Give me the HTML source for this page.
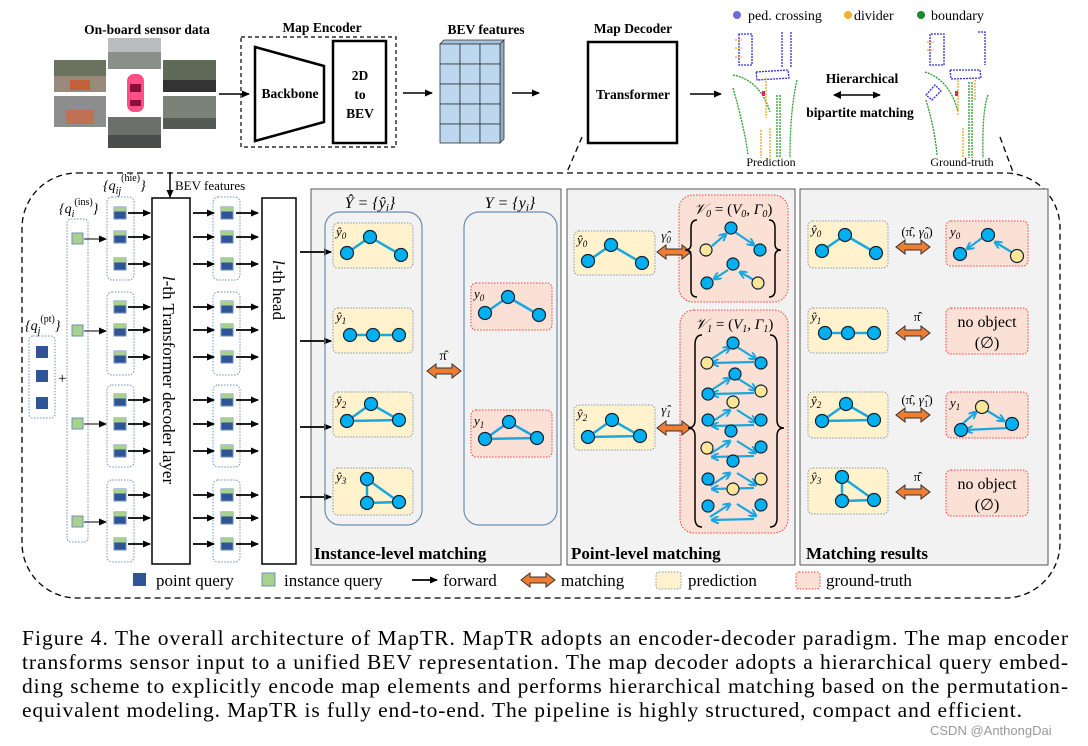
<!DOCTYPE html>
<html><head><meta charset="utf-8"><style>
html,body{margin:0;padding:0;background:#fff}
svg{display:block;font-family:"Liberation Serif",serif}
.b{font-weight:bold}
</style></head><body>
<svg width="1088" height="746" viewBox="0 0 1088 746" xmlns="http://www.w3.org/2000/svg">
<defs>
<marker id="ah" markerWidth="8" markerHeight="8" refX="7" refY="4" orient="auto" markerUnits="userSpaceOnUse"><path d="M0,0.5 L8,4 L0,7.5 z" fill="#000"/></marker>
<marker id="bh" markerWidth="8" markerHeight="8" refX="7" refY="4" orient="auto" markerUnits="userSpaceOnUse"><path d="M0,0 L8,4 L0,8" fill="none" stroke="#1aa7e0" stroke-width="2"/></marker>
<symbol id="hq" overflow="visible"><rect x="0" y="0" width="12" height="12" fill="#2f5597" stroke="#6f8fb8" stroke-width="1"/><rect x="0" y="0" width="12" height="4.5" fill="#a9d18e"/></symbol>
<symbol id="oa" overflow="visible"><polygon points="0,7 9,0 9,4 25,4 25,0 34,7 25,14 25,10 9,10 9,14" fill="#ed7d31" stroke="#333" stroke-width="1"/></symbol>
<symbol id="gA" overflow="visible"><g stroke="#1aa7e0" stroke-width="2.5"><line x1="14" y1="30" x2="37" y2="14"/><line x1="37" y1="14" x2="68" y2="32"/></g><g fill="#00b0f0" stroke="#123" stroke-width="1.2"><circle cx="14" cy="30" r="6.5"/><circle cx="37" cy="14" r="6.5"/><circle cx="68" cy="32" r="6.5"/></g></symbol>
<symbol id="gB" overflow="visible"><line x1="17" y1="27" x2="66" y2="27" stroke="#1aa7e0" stroke-width="2.5"/><g fill="#00b0f0" stroke="#123" stroke-width="1.2"><circle cx="17" cy="27" r="6.5"/><circle cx="40" cy="27" r="6.5"/><circle cx="66" cy="27" r="6.5"/></g></symbol>
<symbol id="gC" overflow="visible"><g stroke="#1aa7e0" stroke-width="2.5"><line x1="14" y1="29" x2="38" y2="12"/><line x1="38" y1="12" x2="66" y2="28"/><line x1="14" y1="29" x2="66" y2="28"/></g><g fill="#00b0f0" stroke="#123" stroke-width="1.2"><circle cx="14" cy="29" r="6.5"/><circle cx="38" cy="12" r="6.5"/><circle cx="66" cy="28" r="6.5"/></g></symbol>
<symbol id="gD" overflow="visible"><g stroke="#1aa7e0" stroke-width="2.5"><line x1="34" y1="11" x2="34" y2="35"/><line x1="34" y1="11" x2="66" y2="34"/><line x1="34" y1="35" x2="66" y2="34"/></g><g fill="#00b0f0" stroke="#123" stroke-width="1.2"><circle cx="34" cy="11" r="6.5"/><circle cx="34" cy="35" r="6.5"/><circle cx="66" cy="34" r="6.5"/></g></symbol>
<symbol id="tr" overflow="visible"><g stroke="#1aa7e0" stroke-width="2.2" marker-end="url(#bh)"><line x1="6" y1="17" x2="26" y2="4"/><line x1="33" y1="4" x2="52" y2="16"/><line x1="50" y1="19" x2="8" y2="20"/></g></symbol>
</defs>

<!-- TOP ROW -->
<text x="147" y="34" font-size="13.5" class="b" text-anchor="middle">On-board sensor data</text>
<rect x="54" y="60" width="52" height="32" fill="#6b7360"/><rect x="54" y="76" width="52" height="16" fill="#9a8a7a"/><rect x="70" y="80" width="20" height="10" fill="#c2603a"/>
<rect x="108" y="38" width="53" height="31" fill="#8a8f8a"/><rect x="108" y="38" width="53" height="14" fill="#b9bdbf"/>
<rect x="163" y="60" width="53" height="32" fill="#5f6b58"/><rect x="163" y="80" width="53" height="12" fill="#333"/>
<rect x="54" y="96" width="52" height="31" fill="#8b8e8d"/><rect x="66" y="110" width="28" height="14" fill="#c07055"/>
<rect x="163" y="96" width="53" height="33" fill="#7b8278"/><rect x="163" y="118" width="53" height="11" fill="#555a55"/>
<rect x="108" y="117" width="53" height="31" fill="#6c6f6a"/><rect x="108" y="135" width="53" height="13" fill="#4a4d4a"/>
<rect x="127" y="74" width="17" height="38" rx="7" fill="#ff4f86"/><rect x="130" y="84" width="11" height="8" fill="#8a0f3a"/><rect x="130" y="100" width="11" height="6" fill="#8a0f3a"/>
<line x1="219" y1="94" x2="249" y2="94" stroke="#000" stroke-width="1.5" marker-end="url(#ah)"/>
<text x="322" y="32" font-size="13.5" class="b" text-anchor="middle">Map Encoder</text>
<rect x="241" y="37" width="155" height="110" fill="none" stroke="#000" stroke-width="1.2" stroke-dasharray="4,3"/>
<polygon points="255,47 324,66 324,122 255,141" fill="#fff" stroke="#000" stroke-width="2.5"/>
<text x="290" y="98" font-size="13.5" class="b" text-anchor="middle">Backbone</text>
<rect x="333" y="41" width="53" height="102" fill="#fff" stroke="#000" stroke-width="2.5"/>
<text x="360" y="80" font-size="13.5" class="b" text-anchor="middle">2D</text>
<text x="360" y="99" font-size="13.5" class="b" text-anchor="middle">to</text>
<text x="360" y="118" font-size="13.5" class="b" text-anchor="middle">BEV</text>
<line x1="403" y1="93" x2="432" y2="93" stroke="#000" stroke-width="1.5" marker-end="url(#ah)"/>
<text x="486" y="34" font-size="13.5" class="b" text-anchor="middle">BEV features</text>
<polygon points="440,44 444,40 504,40 500,44" fill="#a6c3de" stroke="#333" stroke-width="0.8"/>
<polygon points="500,44 504,40 504,139 500,143" fill="#8faecb" stroke="#333" stroke-width="0.8"/>
<g fill="#bdd7ee" stroke="#333" stroke-width="0.8">
<rect x="440" y="44" width="20" height="20"/><rect x="460" y="44" width="20" height="20"/><rect x="480" y="44" width="20" height="20"/>
<rect x="440" y="64" width="20" height="20"/><rect x="460" y="64" width="20" height="20"/><rect x="480" y="64" width="20" height="20"/>
<rect x="440" y="84" width="20" height="20"/><rect x="460" y="84" width="20" height="20"/><rect x="480" y="84" width="20" height="20"/>
<rect x="440" y="104" width="20" height="20"/><rect x="460" y="104" width="20" height="20"/><rect x="480" y="104" width="20" height="20"/>
<rect x="440" y="124" width="20" height="19"/><rect x="460" y="124" width="20" height="19"/><rect x="480" y="124" width="20" height="19"/>
</g>
<line x1="512" y1="93" x2="539" y2="93" stroke="#000" stroke-width="1.5" marker-end="url(#ah)"/>
<text x="633" y="33" font-size="13.5" class="b" text-anchor="middle">Map Decoder</text>
<rect x="588" y="42" width="89" height="101" fill="#fff" stroke="#000" stroke-width="2.5"/>
<text x="633" y="99" font-size="13.5" class="b" text-anchor="middle">Transformer</text>
<line x1="690" y1="94" x2="721" y2="94" stroke="#000" stroke-width="1.5" marker-end="url(#ah)"/>
<circle cx="737" cy="15" r="4" fill="#6b6bdc"/><text x="748" y="20" font-size="14">ped. crossing</text>
<circle cx="848" cy="15" r="4" fill="#f0b030"/><text x="854" y="20" font-size="14">divider</text>
<circle cx="921" cy="15" r="4" fill="#1a8a2a"/><text x="931" y="20" font-size="14">boundary</text>
<g fill="none" stroke-width="1.3" stroke-dasharray="2,1">
<path d="M739,34 L739,65 L752,65 L752,34 Z M782,32 L782,68 M791,32 L791,68 M756,72 L788,70 L789,78 L757,80 Z" stroke="#3030dd"/>
<path d="M733,75 Q760,80 770,112 M733,88 Q745,130 748,155 M797,80 Q790,110 790,158 M777,95 L777,158 M780,95 L780,158" stroke="#2a9a2a"/>
<path d="M766,78 L766,118 M770,128 L770,158 M761,130 L761,158 M735,40 L742,40 M735,48 L742,48 M735,57 L742,57" stroke="#f0a820"/>
<path d="M930,34 L930,65 L944,65 L944,34 Z M978,32 L985,32 L985,65 M950,70 L980,70 L981,78 L951,79 Z M926,95 L935,85 L941,91 L932,100 Z" stroke="#3030dd"/>
<path d="M925,72 Q950,80 958,112 M926,100 Q935,130 937,155 M988,95 Q982,110 983,158 M969,82 L969,158 M972,82 L972,158" stroke="#2a9a2a"/>
<path d="M958,80 L958,115 M963,128 L963,158 M975,80 L975,100 M927,42 L934,42 M927,50 L934,50" stroke="#f0a820"/>
</g>
<rect x="762" y="91" width="3" height="5" fill="#e0206a"/><rect x="955" y="91" width="3" height="5" fill="#e0206a"/>
<text x="862" y="83" font-size="13.5" class="b" text-anchor="middle">Hierarchical</text>
<line x1="834" y1="95" x2="880" y2="95" stroke="#000" stroke-width="1.5" marker-end="url(#ah)"/>
<path d="M841,91 L833,95 L841,99 z" fill="#000"/>
<text x="860" y="117" font-size="13.5" class="b" text-anchor="middle">bipartite matching</text>
<text x="771" y="166" font-size="12" text-anchor="middle">Prediction</text>
<text x="962" y="166" font-size="12" text-anchor="middle">Ground-truth</text>
<line x1="582" y1="137" x2="567" y2="172" stroke="#000" stroke-width="1.3" stroke-dasharray="6,4"/>
<line x1="1000" y1="137" x2="1013" y2="172" stroke="#000" stroke-width="1.3" stroke-dasharray="6,4"/>

<rect x="22" y="173" width="1038" height="425" rx="55" fill="none" stroke="#000" stroke-width="1.3" stroke-dasharray="6,4"/>

<!-- queries -->
<text x="25" y="330" font-size="14" font-style="italic">{q<tspan font-size="10" dy="4">j</tspan><tspan font-size="10" font-style="normal" dy="-12">(pt)</tspan><tspan dy="8">}</tspan></text>
<rect x="29" y="336" width="26" height="82" rx="4" fill="none" stroke="#6f8fb8" stroke-dasharray="1.5,1.5"/>
<g fill="#2f5597"><rect x="36" y="346" width="12" height="12"/><rect x="36" y="370" width="12" height="12"/><rect x="36" y="397" width="12" height="12"/></g>
<text x="58" y="383" font-size="15">+</text>
<text x="59" y="213" font-size="14" font-style="italic">{q<tspan font-size="10" dy="4">i</tspan><tspan font-size="10" font-style="normal" dy="-12">(ins)</tspan><tspan dy="8">}</tspan></text>
<rect x="67" y="219" width="21" height="323" rx="4" fill="none" stroke="#6f8fb8" stroke-dasharray="1.5,1.5"/>
<g fill="#a9d18e" stroke="#6f8fb8"><rect x="72" y="233" width="11" height="11"/><rect x="72" y="325" width="11" height="11"/><rect x="72" y="418" width="11" height="11"/><rect x="72" y="516" width="11" height="11"/></g>
<g stroke="#000" stroke-width="1"><line x1="84" y1="239" x2="106" y2="239" marker-end="url(#ah)"/><line x1="84" y1="331" x2="106" y2="331" marker-end="url(#ah)"/><line x1="84" y1="424" x2="106" y2="424" marker-end="url(#ah)"/><line x1="84" y1="522" x2="106" y2="522" marker-end="url(#ah)"/></g>
<text x="103" y="190" font-size="14" font-style="italic">{q<tspan font-size="10" dy="4">ij</tspan><tspan font-size="10" font-style="normal" dy="-13">(hie)</tspan><tspan dy="9">}</tspan></text>
<g fill="none" stroke="#6f8fb8" stroke-dasharray="1.5,1.5">
<rect x="107" y="197" width="27" height="83" rx="5"/><rect x="107" y="292" width="27" height="83" rx="5"/><rect x="107" y="385" width="27" height="82" rx="5"/><rect x="107" y="480" width="27" height="82" rx="5"/>
<rect x="213" y="197" width="27" height="83" rx="5"/><rect x="213" y="292" width="27" height="83" rx="5"/><rect x="213" y="385" width="27" height="82" rx="5"/><rect x="213" y="480" width="27" height="82" rx="5"/>
</g>
<g>
<use href="#hq" x="114" y="207"/><use href="#hq" x="114" y="231"/><use href="#hq" x="114" y="258"/>
<use href="#hq" x="114" y="301"/><use href="#hq" x="114" y="324"/><use href="#hq" x="114" y="351"/>
<use href="#hq" x="114" y="394"/><use href="#hq" x="114" y="418"/><use href="#hq" x="114" y="445"/>
<use href="#hq" x="114" y="489"/><use href="#hq" x="114" y="512"/><use href="#hq" x="114" y="538"/>
<use href="#hq" x="221" y="207"/><use href="#hq" x="221" y="231"/><use href="#hq" x="221" y="258"/>
<use href="#hq" x="221" y="301"/><use href="#hq" x="221" y="324"/><use href="#hq" x="221" y="351"/>
<use href="#hq" x="221" y="394"/><use href="#hq" x="221" y="418"/><use href="#hq" x="221" y="445"/>
<use href="#hq" x="221" y="489"/><use href="#hq" x="221" y="512"/><use href="#hq" x="221" y="538"/>
</g>
<g stroke="#000" stroke-width="1.8">
<line x1="128" y1="213" x2="150" y2="213" marker-end="url(#ah)"/><line x1="128" y1="237" x2="150" y2="237" marker-end="url(#ah)"/><line x1="128" y1="264" x2="150" y2="264" marker-end="url(#ah)"/>
<line x1="128" y1="307" x2="150" y2="307" marker-end="url(#ah)"/><line x1="128" y1="330" x2="150" y2="330" marker-end="url(#ah)"/><line x1="128" y1="357" x2="150" y2="357" marker-end="url(#ah)"/>
<line x1="128" y1="400" x2="150" y2="400" marker-end="url(#ah)"/><line x1="128" y1="424" x2="150" y2="424" marker-end="url(#ah)"/><line x1="128" y1="451" x2="150" y2="451" marker-end="url(#ah)"/>
<line x1="128" y1="495" x2="150" y2="495" marker-end="url(#ah)"/><line x1="128" y1="518" x2="150" y2="518" marker-end="url(#ah)"/><line x1="128" y1="544" x2="150" y2="544" marker-end="url(#ah)"/>
<line x1="193" y1="213" x2="214" y2="213" marker-end="url(#ah)"/><line x1="193" y1="237" x2="214" y2="237" marker-end="url(#ah)"/><line x1="193" y1="264" x2="214" y2="264" marker-end="url(#ah)"/>
<line x1="193" y1="307" x2="214" y2="307" marker-end="url(#ah)"/><line x1="193" y1="330" x2="214" y2="330" marker-end="url(#ah)"/><line x1="193" y1="357" x2="214" y2="357" marker-end="url(#ah)"/>
<line x1="193" y1="400" x2="214" y2="400" marker-end="url(#ah)"/><line x1="193" y1="424" x2="214" y2="424" marker-end="url(#ah)"/><line x1="193" y1="451" x2="214" y2="451" marker-end="url(#ah)"/>
<line x1="193" y1="495" x2="214" y2="495" marker-end="url(#ah)"/><line x1="193" y1="518" x2="214" y2="518" marker-end="url(#ah)"/><line x1="193" y1="544" x2="214" y2="544" marker-end="url(#ah)"/>
<line x1="236" y1="213" x2="258" y2="213" marker-end="url(#ah)"/><line x1="236" y1="237" x2="258" y2="237" marker-end="url(#ah)"/><line x1="236" y1="264" x2="258" y2="264" marker-end="url(#ah)"/>
<line x1="236" y1="307" x2="258" y2="307" marker-end="url(#ah)"/><line x1="236" y1="330" x2="258" y2="330" marker-end="url(#ah)"/><line x1="236" y1="357" x2="258" y2="357" marker-end="url(#ah)"/>
<line x1="236" y1="400" x2="258" y2="400" marker-end="url(#ah)"/><line x1="236" y1="424" x2="258" y2="424" marker-end="url(#ah)"/><line x1="236" y1="451" x2="258" y2="451" marker-end="url(#ah)"/>
<line x1="236" y1="495" x2="258" y2="495" marker-end="url(#ah)"/><line x1="236" y1="518" x2="258" y2="518" marker-end="url(#ah)"/><line x1="236" y1="544" x2="258" y2="544" marker-end="url(#ah)"/>
</g>
<rect x="152" y="198" width="38" height="366" fill="#fff" stroke="#000" stroke-width="1.5"/>
<text transform="translate(163,380) rotate(90)" font-size="17" text-anchor="middle"><tspan font-style="italic">l</tspan>-th Transformer decoder layer</text>
<line x1="170" y1="172" x2="170" y2="197" stroke="#000" stroke-width="1.5" marker-end="url(#ah)"/>
<text x="175" y="190" font-size="13">BEV features</text>
<rect x="262" y="198" width="34" height="366" fill="#fff" stroke="#000" stroke-width="1.5"/>
<text transform="translate(273,290) rotate(90)" font-size="17" text-anchor="middle"><tspan font-style="italic">l</tspan>-th head</text>

<!-- Instance-level panel -->
<rect x="311" y="189" width="250" height="376" fill="#f2f2f2" stroke="#555" stroke-width="1"/>
<g stroke="#000" stroke-width="1.8">
<line x1="300" y1="252" x2="331" y2="252" marker-end="url(#ah)"/><line x1="300" y1="341" x2="331" y2="341" marker-end="url(#ah)"/><line x1="300" y1="427" x2="331" y2="427" marker-end="url(#ah)"/><line x1="300" y1="497" x2="331" y2="497" marker-end="url(#ah)"/>
</g>
<text x="370" y="208" font-size="16" text-anchor="middle" font-style="italic">Ŷ = {ŷ<tspan font-size="11" dy="3">i</tspan><tspan dy="-3">}</tspan></text>
<text x="510" y="208" font-size="16" text-anchor="middle" font-style="italic">Y = {y<tspan font-size="11" dy="3">i</tspan><tspan dy="-3">}</tspan></text>
<rect x="325" y="212" width="97" height="313" rx="15" fill="none" stroke="#6d8bb0" stroke-width="1.2"/>
<rect x="464" y="212" width="93" height="313" rx="15" fill="none" stroke="#6d8bb0" stroke-width="1.2"/>
<g fill="#fff2cc" stroke="#8496b0" stroke-dasharray="1.5,1.5">
<rect x="333" y="223" width="80" height="45" rx="5"/><rect x="333" y="308" width="80" height="45" rx="5"/><rect x="333" y="392" width="80" height="45" rx="5"/><rect x="333" y="468" width="80" height="47" rx="5"/>
</g>
<g fill="#fbe0d6" stroke="#ff3b3b" stroke-dasharray="1.5,1.5">
<rect x="471" y="283" width="81" height="47" rx="5"/><rect x="471" y="410" width="81" height="47" rx="5"/>
</g>
<use href="#gA" x="333" y="223"/><use href="#gB" x="333" y="308"/><use href="#gC" x="333" y="392"/><use href="#gD" x="333" y="468"/>
<use href="#gA" x="471" y="283"/><use href="#gC" x="471" y="410"/>
<g font-size="13" font-style="italic">
<text x="336" y="236">ŷ<tspan font-size="9" dy="3">0</tspan></text><text x="336" y="321">ŷ<tspan font-size="9" dy="3">1</tspan></text><text x="336" y="405">ŷ<tspan font-size="9" dy="3">2</tspan></text><text x="336" y="481">ŷ<tspan font-size="9" dy="3">3</tspan></text>
<text x="474" y="298">y<tspan font-size="9" dy="3">0</tspan></text><text x="474" y="425">y<tspan font-size="9" dy="3">1</tspan></text>
</g>
<use href="#oa" x="427" y="364"/>
<text x="443" y="360" font-size="14" text-anchor="middle">π̂</text>
<text x="314" y="559" font-size="17" class="b">Instance-level matching</text>

<!-- Point-level panel -->
<rect x="567" y="189" width="228" height="376" fill="#f2f2f2" stroke="#555" stroke-width="1"/>
<g fill="#fff2cc" stroke="#8496b0" stroke-dasharray="1.5,1.5">
<rect x="574" y="231" width="81" height="44" rx="5"/><rect x="574" y="405" width="81" height="45" rx="5"/>
</g>
<rect x="679" y="195" width="109" height="107" rx="14" fill="#fbe0d6" stroke="#ff3b3b" stroke-dasharray="1.5,1.5"/>
<rect x="680" y="310" width="108" height="223" rx="14" fill="#fbe0d6" stroke="#ff3b3b" stroke-dasharray="1.5,1.5"/>
<use href="#gA" x="574" y="231"/><use href="#gC" x="574" y="408"/>
<text x="577" y="244" font-size="13" font-style="italic">ŷ<tspan font-size="9" dy="3">0</tspan></text>
<text x="577" y="418" font-size="13" font-style="italic">ŷ<tspan font-size="9" dy="3">2</tspan></text>
<use href="#oa" x="657" y="245"/><use href="#oa" x="657" y="421"/>
<text x="666" y="240" font-size="13" text-anchor="middle" font-style="italic">γ̂<tspan font-size="9" dy="3">0</tspan></text>
<text x="666" y="414" font-size="13" text-anchor="middle" font-style="italic">γ̂<tspan font-size="9" dy="3">1</tspan></text>
<text x="733" y="214" font-size="15" text-anchor="middle" font-style="italic">𝒱<tspan font-size="10" dy="3">0</tspan><tspan dy="-3" font-style="normal"> = (</tspan>V<tspan font-size="10" dy="3">0</tspan><tspan dy="-3">, Γ</tspan><tspan font-size="10" dy="3">0</tspan><tspan dy="-3" font-style="normal">)</tspan></text>
<text x="734" y="329" font-size="15" text-anchor="middle" font-style="italic">𝒱<tspan font-size="10" dy="3">1</tspan><tspan dy="-3" font-style="normal"> = (</tspan>V<tspan font-size="10" dy="3">1</tspan><tspan dy="-3">, Γ</tspan><tspan font-size="10" dy="3">1</tspan><tspan dy="-3" font-style="normal">)</tspan></text>
<g fill="none" stroke="#000" stroke-width="1.5">
<path d="M697,220 Q691,220 691,228 L691,244 Q691,250 685,250 Q691,250 691,256 L691,290 Q691,297 697,297"/>
<path d="M769,220 Q775,220 775,228 L775,244 Q775,250 781,250 Q775,250 775,256 L775,290 Q775,297 769,297"/>
<path d="M702,335 Q695,335 695,345 L695,420 Q695,428 688,428 Q695,428 695,436 L695,518 Q695,527 702,527"/>
<path d="M770,335 Q777,335 777,345 L777,420 Q777,428 784,428 Q777,428 777,436 L777,518 Q777,527 770,527"/>
</g>
<g stroke="#1aa7e0" stroke-width="2.2" marker-end="url(#bh)"><line x1="712" y1="246" x2="726" y2="234"/><line x1="735" y1="232" x2="754" y2="245"/><line x1="728" y1="270" x2="714" y2="279"/><line x1="754" y1="280" x2="740" y2="272"/></g>
<g stroke="#123" stroke-width="1.2"><circle cx="706" cy="250" r="6" fill="#ffe699"/><circle cx="731" cy="228" r="6" fill="#00b0f0"/><circle cx="760" cy="250" r="6" fill="#00b0f0"/><circle cx="707" cy="283" r="6" fill="#00b0f0"/><circle cx="733" cy="264" r="6" fill="#00b0f0"/><circle cx="758" cy="283" r="6" fill="#ffe699"/></g>
<g>
<use href="#tr" x="704" y="343"/><use href="#tr" x="704" y="374"/><use href="#tr" x="704" y="406"/><use href="#tr" x="704" y="437"/><use href="#tr" x="704" y="469"/><use href="#tr" x="704" y="500"/>
</g>
<g stroke="#123" stroke-width="1.2">
<circle cx="707" cy="363" r="6" fill="#ffe699"/><circle cx="733" cy="343" r="6" fill="#00b0f0"/><circle cx="761" cy="363" r="6" fill="#00b0f0"/>
<circle cx="708" cy="394" r="6" fill="#00b0f0"/><circle cx="735" cy="374" r="6" fill="#00b0f0"/><circle cx="761" cy="391" r="6" fill="#ffe699"/>
<circle cx="708" cy="420" r="6" fill="#00b0f0"/><circle cx="733" cy="402" r="6" fill="#ffe699"/><circle cx="761" cy="420" r="6" fill="#00b0f0"/>
<circle cx="707" cy="448" r="6" fill="#ffe699"/><circle cx="731" cy="431" r="6" fill="#00b0f0"/><circle cx="761" cy="447" r="6" fill="#00b0f0"/>
<circle cx="708" cy="479" r="6" fill="#00b0f0"/><circle cx="733" cy="461" r="6" fill="#00b0f0"/><circle cx="761" cy="479" r="6" fill="#ffe699"/>
<circle cx="708" cy="506" r="6" fill="#00b0f0"/><circle cx="733" cy="489" r="6" fill="#ffe699"/><circle cx="761" cy="505" r="6" fill="#00b0f0"/>
</g>
<text x="571" y="559" font-size="17" class="b">Point-level matching</text>

<!-- Matching results -->
<rect x="800" y="189" width="248" height="376" fill="#f2f2f2" stroke="#555" stroke-width="1"/>
<g fill="#fff2cc" stroke="#8496b0" stroke-dasharray="1.5,1.5">
<rect x="808" y="221" width="80" height="47" rx="5"/><rect x="808" y="308" width="80" height="45" rx="5"/><rect x="808" y="392" width="80" height="46" rx="5"/><rect x="808" y="468" width="80" height="46" rx="5"/>
</g>
<g fill="#fbe0d6" stroke="#ff3b3b" stroke-dasharray="1.5,1.5">
<rect x="946" y="221" width="82" height="45" rx="5"/><rect x="946" y="308" width="82" height="46" rx="5"/><rect x="946" y="392" width="82" height="46" rx="5"/><rect x="946" y="470" width="82" height="46" rx="5"/>
</g>
<use href="#gA" x="808" y="221"/><use href="#gB" x="808" y="306"/><use href="#gC" x="808" y="392"/><use href="#gD" x="808" y="466"/>
<g font-size="13" font-style="italic">
<text x="811" y="234">ŷ<tspan font-size="9" dy="3">0</tspan></text><text x="811" y="321">ŷ<tspan font-size="9" dy="3">1</tspan></text><text x="811" y="405">ŷ<tspan font-size="9" dy="3">2</tspan></text><text x="811" y="481">ŷ<tspan font-size="9" dy="3">3</tspan></text>
<text x="950" y="236">y<tspan font-size="9" dy="3">0</tspan></text><text x="950" y="407">y<tspan font-size="9" dy="3">1</tspan></text>
</g>
<g stroke="#1aa7e0" stroke-width="2.2" marker-end="url(#bh)"><line x1="982" y1="238" x2="967" y2="249"/><line x1="1013" y1="253" x2="995" y2="242"/><line x1="960" y1="426" x2="976" y2="412"/><line x1="986" y1="410" x2="1004" y2="421"/><line x1="1008" y1="428" x2="966" y2="430"/></g>
<g stroke="#123" stroke-width="1.2"><circle cx="960" cy="254" r="6.5" fill="#00b0f0"/><circle cx="988" cy="235" r="6.5" fill="#00b0f0"/><circle cx="1017" cy="256" r="6.5" fill="#ffe699"/>
<circle cx="961" cy="430" r="6.5" fill="#00b0f0"/><circle cx="982" cy="407" r="6.5" fill="#ffe699"/><circle cx="1012" cy="424" r="6.5" fill="#00b0f0"/></g>
<use href="#oa" x="896" y="240"/><use href="#oa" x="896" y="326"/><use href="#oa" x="896" y="408"/><use href="#oa" x="896" y="485"/>
<g font-size="13" text-anchor="middle">
<text x="917" y="236">(π̂, <tspan font-style="italic">γ̂</tspan><tspan font-size="9" dy="3">0</tspan><tspan dy="-3">)</tspan></text>
<text x="917" y="321">π̂</text>
<text x="917" y="404">(π̂, <tspan font-style="italic">γ̂</tspan><tspan font-size="9" dy="3">1</tspan><tspan dy="-3">)</tspan></text>
<text x="917" y="481">π̂</text>
</g>
<g font-size="16" text-anchor="middle">
<text x="987" y="327">no object</text><text x="987" y="348">(∅)</text>
<text x="987" y="489">no object</text><text x="987" y="510">(∅)</text>
</g>
<text x="806" y="559" font-size="17" class="b">Matching results</text>

<!-- legend -->
<rect x="133" y="573" width="13" height="13" fill="#2f5597"/><text x="156" y="586" font-size="17">point query</text>
<rect x="262" y="573" width="13" height="13" fill="#a9d18e" stroke="#6f8fb8"/><text x="284" y="586" font-size="17">instance query</text>
<line x1="412" y1="580" x2="437" y2="580" stroke="#000" stroke-width="1.8" marker-end="url(#ah)"/><text x="443" y="586" font-size="17">forward</text>
<use href="#oa" x="521" y="573"/><text x="561" y="586" font-size="17">matching</text>
<rect x="656" y="572" width="25" height="17" rx="3" fill="#fff2cc" stroke="#8496b0" stroke-dasharray="1.5,1.5"/><text x="688" y="586" font-size="17">prediction</text>
<rect x="796" y="572" width="24" height="17" rx="3" fill="#fbe0d6" stroke="#ff3b3b" stroke-dasharray="1.5,1.5"/><text x="826" y="586" font-size="17">ground-truth</text>

<!-- caption -->
<g font-size="21.5">
<text x="22" y="645" textLength="1046" lengthAdjust="spacing">Figure 4. The overall architecture of MapTR. MapTR adopts an encoder-decoder paradigm. The map encoder</text>
<text x="22" y="669" textLength="1046" lengthAdjust="spacing">transforms sensor input to a unified BEV representation. The map decoder adopts a hierarchical query embed-</text>
<text x="22" y="693" textLength="1046" lengthAdjust="spacing">ding scheme to explicitly encode map elements and performs hierarchical matching based on the permutation-</text>
<text x="22" y="717" textLength="1000" lengthAdjust="spacing">equivalent modeling. MapTR is fully end-to-end. The pipeline is highly structured, compact and efficient.</text>
</g>
<text x="930" y="735" font-size="13" fill="#999" font-family="Liberation Sans, sans-serif">CSDN @AnthongDai</text>
</svg>
</body></html>
